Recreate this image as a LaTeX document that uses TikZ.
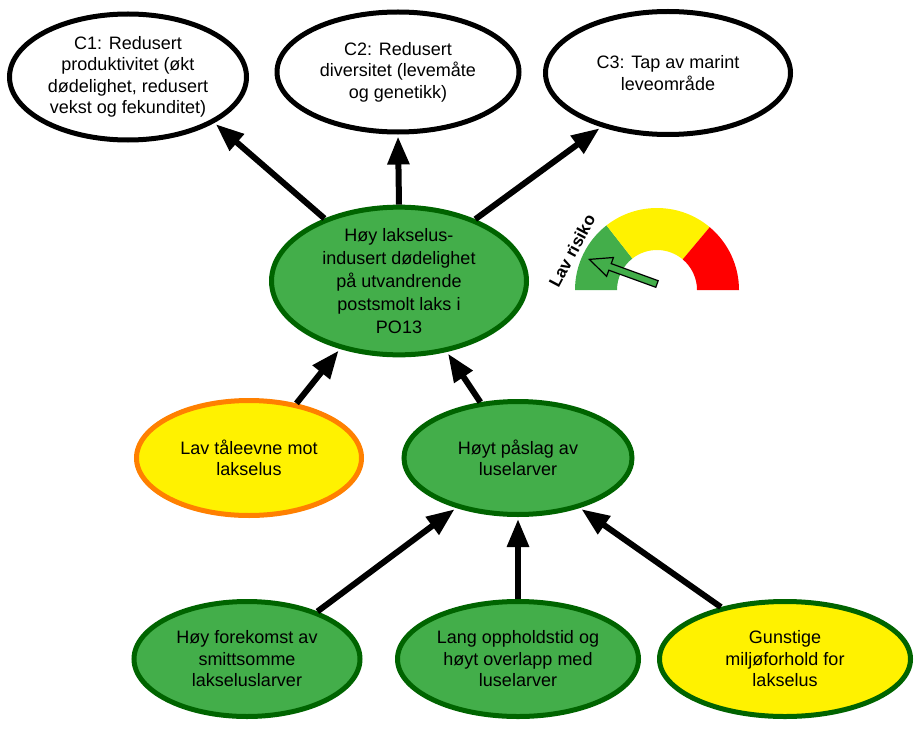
\documentclass[tikz,border=0pt]{standalone}
\usepackage{fontspec}
\setmainfont{Liberation Sans}
\usetikzlibrary{shapes.geometric,arrows.meta}
\definecolor{ngreen}{RGB}{67,174,74}
\definecolor{dgreen}{RGB}{0,100,0}
\definecolor{nyellow}{RGB}{255,242,0}
\definecolor{norange}{RGB}{255,128,0}
\definecolor{nred}{RGB}{255,0,0}
\tikzset{
  ell/.style={ellipse, line width=5pt, align=center, inner sep=0pt,
    font=\fontsize{18}{21.5}\selectfont},
  whiteell/.style={ell, draw=black, fill=white},
  greenell/.style={ell, draw=dgreen, fill=ngreen},
  yoell/.style={ell, draw=norange, fill=nyellow},
  ygell/.style={ell, draw=dgreen, fill=nyellow},
  conn/.style={line width=6pt, -{Triangle[length=28pt,width=21pt]}, shorten >=2pt}
}
\begin{document}
\begin{tikzpicture}[x=1pt,y=-1pt]
\useasboundingbox (0,0) rectangle (920,733);
% top consequence nodes
\node[whiteell, minimum width=237pt, minimum height=126pt] (c1) at (128,77)
  {C1: Redusert\\produktivitet (økt\\dødelighet, redusert\\vekst og fekunditet)};
\node[whiteell, minimum width=242pt, minimum height=120pt] (c2) at (398,72)
  {C2: Redusert\\diversitet (levemåte\\og genetikk)};
\node[whiteell, minimum width=245pt, minimum height=123pt] (c3) at (668,73)
  {C3: Tap av marint\\leveområde};
% central node
\node[greenell, minimum width=255pt, minimum height=142pt, font=\fontsize{18}{22.8}\selectfont] (h) at (399,281)
  {Høy lakselus-\\indusert dødelighet\\på utvandrende\\postsmolt laks i\\PO13};
% middle row
\node[yoell, minimum width=225pt, minimum height=115pt] (lav) at (249,458)
  {Lav tåleevne mot\\lakselus};
\node[greenell, minimum width=228pt, minimum height=113pt] (hp) at (518,458)
  {Høyt påslag av\\luselarver};
% bottom row
\node[greenell, minimum width=226pt, minimum height=115pt] (hf) at (247,659)
  {Høy forekomst av\\smittsomme\\lakseluslarver};
\node[greenell, minimum width=241pt, minimum height=115pt] (lo) at (518,659)
  {Lang oppholdstid og\\høyt overlapp med\\luselarver};
\node[ygell, minimum width=251pt, minimum height=115pt] (gu) at (785,659)
  {Gunstige\\miljøforhold for\\lakselus};
% connectors
\draw[conn] (h.140.8) -- (c1.332);
\draw[conn] (h.90) -- (c2.270);
\draw[conn] (h.39.2) -- (c3.219.2);
\draw[conn] (lav.49.8) -- (h.229.8);
\draw[conn] (hp.124.6) -- (h.304.5);
\draw[conn] (hf.34) -- (hp.219.8);
\draw[conn] (lo.90) -- (hp.270);
\draw[conn] (gu.141.6) -- (hp.321);
% gauge
\begin{scope}[shift={(657,290)}]
  \fill[ngreen] (180:82pt) arc[start angle=180,end angle=128,radius=82pt]
    -- (128:40pt) arc[start angle=128,end angle=180,radius=40pt] -- cycle;
  \fill[nyellow] (128:82pt) arc[start angle=128,end angle=50,radius=82pt]
    -- (50:40pt) arc[start angle=50,end angle=128,radius=40pt] -- cycle;
  \fill[nred] (50:82pt) arc[start angle=50,end angle=0,radius=82pt]
    -- (0:40pt) arc[start angle=0,end angle=50,radius=40pt] -- cycle;
\end{scope}
\begin{scope}[shift={(657,284)}, rotate=160]
  \filldraw[fill=ngreen, draw=black, line width=1.2pt]
    (0pt,-3.5pt) -- (50pt,-3.5pt) -- (50pt,-10pt) -- (72pt,0pt)
    -- (50pt,10pt) -- (50pt,3.5pt) -- (0pt,3.5pt) -- cycle;
\end{scope}
\node[rotate=62, inner sep=0pt, font=\fontsize{17}{20}\selectfont\bfseries] (lr) at (572,251) {Lav risiko};
\end{tikzpicture}
\end{document}
